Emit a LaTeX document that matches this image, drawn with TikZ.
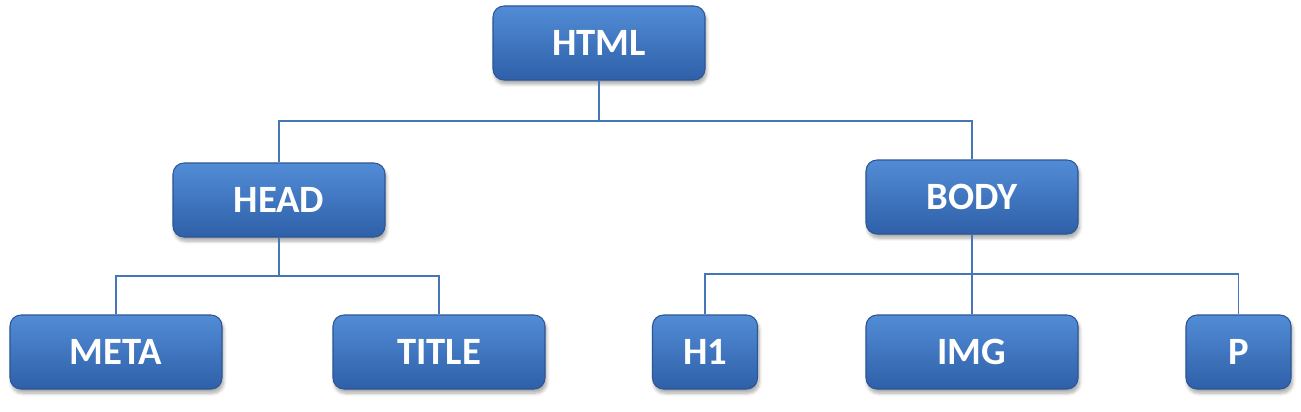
\documentclass[tikz,border=0pt]{standalone}
\usepackage{fontspec}
\setmainfont{Carlito}
\usepackage{tikz}
\usetikzlibrary{calc, positioning, shadows.blur}
\usepackage{xcolor}
\definecolor{tagTop}{RGB}{82, 140, 214}
\definecolor{tagBot}{RGB}{46, 96, 168}
\definecolor{tagEdge}{RGB}{44, 86, 148}
\definecolor{linkBlue}{RGB}{70, 118, 186}

\begin{document}
\begin{tikzpicture}[
    tag/.style={draw=tagEdge, line width=0.6pt, rounded corners=0.22cm,
      top color=tagTop, bottom color=tagBot, text=white,
      minimum width=4.24cm, minimum height=1.48cm,
      font=\fontsize{22}{26}\selectfont\bfseries,
      blur shadow={shadow xshift=0.03cm, shadow yshift=-0.08cm,
        shadow blur steps=6, shadow opacity=35}},
    smalltag/.style={tag, minimum width=2.1cm},
    link/.style={draw=linkBlue, line width=1.1pt}]
  \useasboundingbox (0, 0) rectangle (26.02, 8.22);

  \node[tag] (html) at (11.98, 7.36) {HTML};

  \node[tag] (head) at (5.58, 4.22) {HEAD};
  \node[tag] (body) at (19.44, 4.28) {BODY};

  \node[tag] (meta) at (2.32, 1.18) {META};
  \node[tag] (title) at (8.78, 1.18) {TITLE};
  \node[smalltag] (h1) at (14.10, 1.18) {H1};
  \node[tag] (img) at (19.44, 1.18) {IMG};
  \node[smalltag] (p) at (24.77, 1.18) {P};

  % bus lines
  \coordinate (topbus) at (0, 5.80);
  \coordinate (headbus) at (0, 2.70);
  \coordinate (bodybus) at (0, 2.74);

  \draw[link] (html.south) -- (html.south |- topbus) -| (head.north);
  \draw[link] (html.south |- topbus) -| (body.north);

  \draw[link] (head.south) -- (head.south |- headbus) -| (meta.north);
  \draw[link] (head.south |- headbus) -| (title.north);

  \draw[link] (body.south) -- (body.south |- bodybus) -| (h1.north);
  \draw[link] (body.south |- bodybus) -| (p.north);
  \draw[link] (body.south |- bodybus) -- (img.north);
\end{tikzpicture}
\end{document}
